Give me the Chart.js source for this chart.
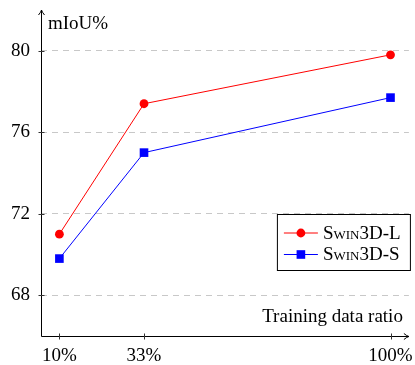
<!DOCTYPE html>
<html>
<head>
<meta charset="utf-8">
<script src="https://cdn.jsdelivr.net/npm/chart.js@4"></script>
<style>
  html, body { margin: 0; padding: 0; background: #fff; }
  #wrap { width: 415px; height: 365px; }
</style>
</head>
<body>
<div id="wrap"><canvas id="c" width="415" height="365"></canvas></div>
<script>
const xValues = [10, 33, 100];
const xTickLabels = ['10%', '33%', '100%'];
const yTicks = [68, 72, 76, 80];
const swinL = [71.0, 77.4, 79.8];
const swinS = [69.8, 75.0, 77.7];
const seriesNames = ['Swin3D-L', 'Swin3D-S'];
const yTitle = 'mIoU%';
const xTitle = 'Training data ratio';

const FONT = '"Liberation Serif", "Times New Roman", serif';

const decor = {
  id: 'decor',
  afterDraw(chart) {
    const ctx = chart.ctx;
    const a = chart.chartArea;
    const xs = chart.scales.x, ys = chart.scales.y;
    ctx.save();
    ctx.strokeStyle = '#000';
    ctx.lineWidth = 1;
    // axes
    const ax = Math.round(a.left) + 0.5, ay = Math.round(a.bottom) + 0.5;
    ctx.beginPath();
    ctx.moveTo(ax, ay); ctx.lineTo(ax, a.top);
    ctx.moveTo(ax, ay); ctx.lineTo(a.right, ay);
    ctx.stroke();
    // arrows
    ctx.beginPath();
    ctx.moveTo(ax - 3, a.top + 5); ctx.quadraticCurveTo(ax - 0.5, a.top + 2, ax, a.top);
    ctx.quadraticCurveTo(ax + 0.5, a.top + 2, ax + 3, a.top + 5);
    ctx.moveTo(a.right - 5, ay - 3); ctx.quadraticCurveTo(a.right - 2, ay - 0.5, a.right, ay);
    ctx.quadraticCurveTo(a.right - 2, ay + 0.5, a.right - 5, ay + 3);
    ctx.stroke();
    // tick marks
    ctx.strokeStyle = '#333';
    ctx.beginPath();
    yTicks.forEach(v => {
      const py = Math.round(ys.getPixelForValue(v)) + 0.5;
      ctx.moveTo(ax - 3, py); ctx.lineTo(ax + 3, py);
    });
    xValues.forEach(v => {
      const px = Math.round(xs.getPixelForValue(v)) + 0.5;
      ctx.moveTo(px, ay - 3); ctx.lineTo(px, ay + 3);
    });
    ctx.stroke();
    // titles
    ctx.fillStyle = '#000';
    ctx.font = '19px ' + FONT;
    ctx.textBaseline = 'alphabetic';
    ctx.textAlign = 'left';
    ctx.fillText(yTitle, a.left + 7, a.top + 19);
    ctx.textAlign = 'right';
    ctx.fillText(xTitle, a.right - 6, a.bottom - 14);
    // legend
    const lx = a.right - 132, ly = a.top + 204, lw = 133, lh = 56;
    ctx.fillStyle = '#fff';
    ctx.fillRect(lx + 0.5, ly + 0.5, lw, lh);
    ctx.strokeStyle = '#000';
    ctx.strokeRect(lx + 0.5, ly + 0.5, lw, lh);
    chart.data.datasets.forEach((ds, i) => {
      const ry = ly + 19 + i * 21.5;
      ctx.strokeStyle = ds.borderColor;
      ctx.lineWidth = 1;
      ctx.beginPath();
      ctx.moveTo(lx + 7, ry); ctx.lineTo(lx + 41, ry);
      ctx.stroke();
      ctx.fillStyle = ds.backgroundColor;
      Chart.helpers.drawPoint(ctx, {
        pointStyle: ds.pointStyle, radius: ds.pointRadius, rotation: 0, borderWidth: 0
      }, lx + 24, ry);
      ctx.fillStyle = '#000';
      ctx.textAlign = 'left';
      ctx.textBaseline = 'middle';
      ctx.font = 'small-caps 19px ' + FONT;
      try { ctx.fontVariantCaps = 'small-caps'; } catch (e) {}
      ctx.fillText(ds.label, lx + 46, ry + 1);
    });
    ctx.restore();
  }
};

new Chart(document.getElementById('c'), {
  type: 'line',
  data: {
    datasets: [
      {
        label: seriesNames[0],
        data: xValues.map((x, i) => ({ x, y: swinL[i] })),
        borderColor: '#ff0000', backgroundColor: '#ff0000',
        borderWidth: 1, pointStyle: 'circle', pointRadius: 4.4,
        pointBorderWidth: 0, tension: 0
      },
      {
        label: seriesNames[1],
        data: xValues.map((x, i) => ({ x, y: swinS[i] })),
        borderColor: '#0000ff', backgroundColor: '#0000ff',
        borderWidth: 1, pointStyle: 'rect', pointRadius: 6.1,
        pointBorderWidth: 0, tension: 0
      }
    ]
  },
  options: {
    responsive: false,
    animation: false,
    devicePixelRatio: 1,
    layout: { padding: { top: 10, right: 2, left: 0, bottom: 0 } },
    plugins: { legend: { display: false }, tooltip: { enabled: false } },
    scales: {
      x: {
        type: 'linear', min: 5, max: 105,
        afterBuildTicks: s => { s.ticks = xValues.map(v => ({ value: v })); },
        afterFit: s => { s.height = 29; s.paddingLeft = 0; s.paddingRight = 0; s.paddingTop = 0; s.paddingBottom = 0; },
        grid: { display: false, drawTicks: false },
        border: { display: false },
        ticks: {
          padding: 9, color: '#000', maxRotation: 0, autoSkip: false,
          font: { family: FONT, size: 19 },
          callback: v => xTickLabels[xValues.indexOf(v)]
        }
      },
      y: {
        type: 'linear', min: 66, max: 82,
        afterBuildTicks: s => { s.ticks = yTicks.map(v => ({ value: v })); },
        afterFit: s => { s.width = 41; s.paddingTop = 0; s.paddingBottom = 0; s.paddingLeft = 0; s.paddingRight = 0; },
        grid: { color: '#c8c8c8', lineWidth: 1, drawTicks: false },
        border: { display: false, dash: [6, 5] },
        ticks: {
          padding: 11, color: '#000',
          font: { family: FONT, size: 19 },
          callback: v => String(v)
        }
      }
    }
  },
  plugins: [decor]
});
</script>
</body>
</html>
